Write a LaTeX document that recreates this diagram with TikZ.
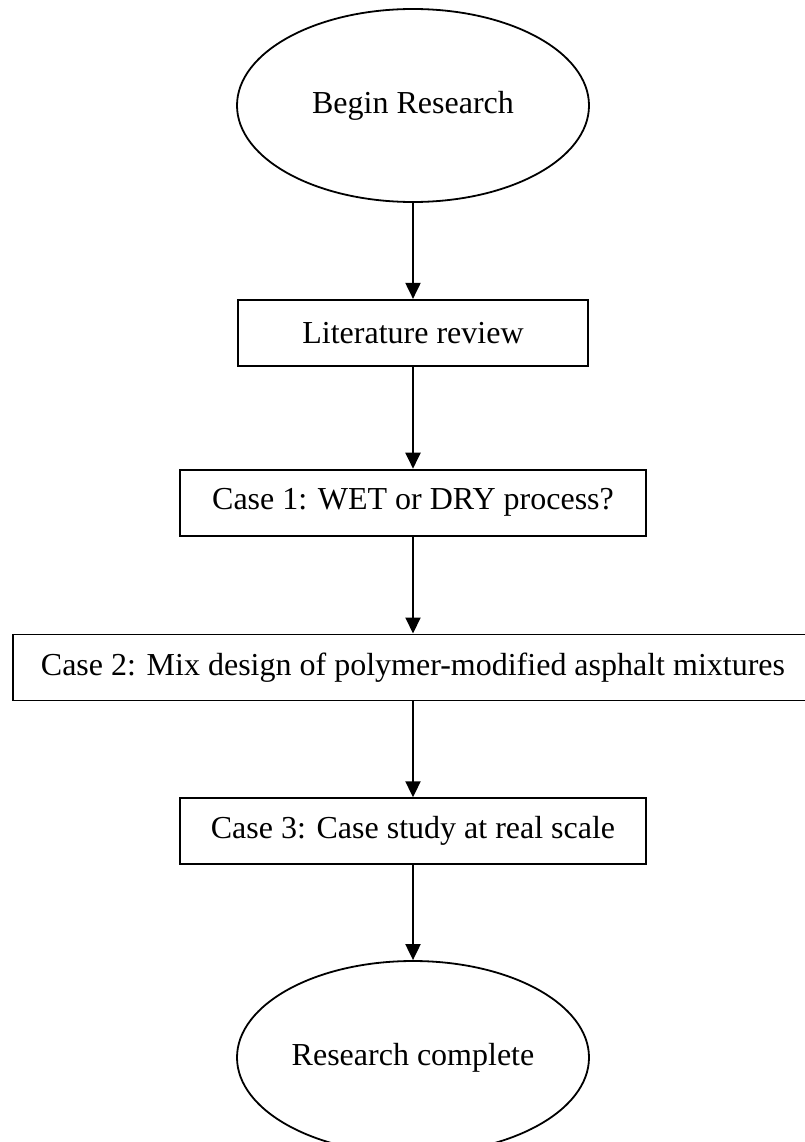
\documentclass[tikz,border=0pt]{standalone}
\usepackage{fontspec}
\setmainfont{Liberation Serif}
\usepackage{tikz}
\usetikzlibrary{positioning,shapes.geometric,arrows.meta}
\tikzset{
terminal/.style={ellipse,draw=black,line width=1.8pt,minimum width=352pt,minimum height=193pt,inner sep=0pt},
stage/.style={rectangle,draw=black,line width=1.8pt,minimum height=66pt,inner sep=0pt,align=center},
stagewide/.style={stage,minimum width=800pt},
stagemid/.style={stage,minimum width=466pt},
stagenarrow/.style={stage,minimum width=350pt},
flowarrow/.style={-{Triangle[length=16pt,width=15pt]},line width=2pt,black}
}

\begin{document}
\begin{tikzpicture}[every node/.style={font=\fontsize{32}{38}\selectfont}]
\useasboundingbox (0,0) rectangle (805pt,-1142pt);
\node[terminal] (begin) at (413pt,-105.5pt) {Begin Research};
\node[stagenarrow,below=96pt of begin] (lit) {Literature review};
\node[stagemid,below=102pt of lit] (case1) {Case 1: WET or DRY process?};
\node[stagewide,below=97pt of case1] (case2) {Case 2: Mix design of polymer-modified asphalt mixtures};
\node[stagemid,below=96pt of case2] (case3) {Case 3: Case study at real scale};
\node[terminal,below=95pt of case3] (done) {Research complete};
\draw[flowarrow] (begin) -- (lit);
\draw[flowarrow] (lit) -- (case1);
\draw[flowarrow] (case1) -- (case2);
\draw[flowarrow] (case2) -- (case3);
\draw[flowarrow] (case3) -- (done);
\end{tikzpicture}
\end{document}
